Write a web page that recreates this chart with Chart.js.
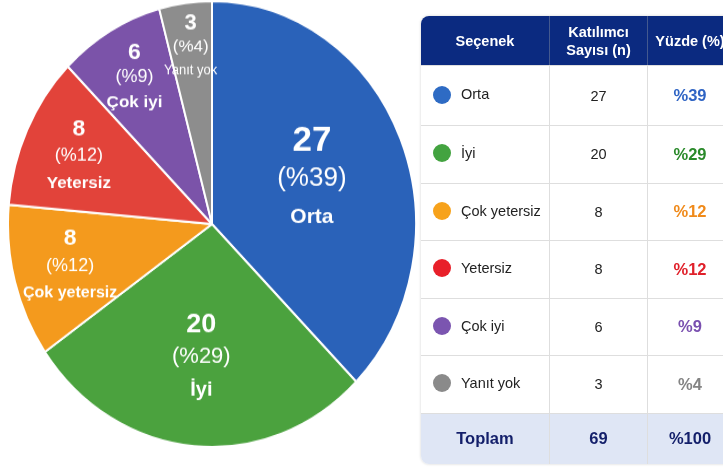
<!DOCTYPE html>
<html lang="tr">
<head>
<meta charset="utf-8">
<script src="https://cdn.jsdelivr.net/npm/chart.js@4.4.0/dist/chart.umd.min.js"></script>
<style>
    html, body { margin: 0; padding: 0; background: #fff; }
    body { width: 723px; height: 467px; position: relative; overflow: hidden; font-family: "Liberation Sans", Arial, sans-serif; }
    #pie { position: absolute; left: 7px; top: 0; transform-origin: 0 0; transform: scaleY(1.093); }
    #tbl {
        position: absolute; left: 421px; top: 16px; width: 312px;
        table-layout: fixed;
        border-collapse: separate; border-spacing: 0;
        border-radius: 8px; overflow: hidden;
        box-shadow: 0 0 3px rgba(0,0,0,0.18);
    }
    #tbl th { background: #0b2a80; color: #fff; font-weight: bold; font-size: 14.5px; height: 49px; line-height: 18px; padding: 0; border-right: 1px solid #44598f; text-align: center; }
    #tbl td { height: 56.5px; padding: 0; border-top: 1px solid #dedede; border-right: 1px solid #dedede; font-size: 14.5px; color: #222; text-align: center; }
    #tbl tbody tr:first-child td { height: 59px; }
    #tbl td.name { text-align: left; padding-left: 12px; white-space: nowrap; }
    #tbl td.pct { font-weight: bold; font-size: 16.5px; }
    .dot { display: inline-block; width: 18px; height: 18px; border-radius: 50%; vertical-align: middle; margin-right: 10px; position: relative; top: -1px; }
    #tbl tr.total td { background: #dfe6f5; height: 50px; font-weight: bold; font-size: 16.5px; color: #131f6a; }
</style>
</head>
<body>
<canvas id="pie" width="410" height="410"></canvas>
<table id="tbl">
    <colgroup><col style="width:129px"><col style="width:98px"><col style="width:85px"></colgroup>
    <thead>
        <tr><th>Seçenek</th><th>Katılımcı<br>Sayısı (n)</th><th>Yüzde (%)</th></tr>
    </thead>
    <tbody id="tbody"></tbody>
</table>
<script>
const categories = ['Orta', 'İyi', 'Çok yetersiz', 'Yetersiz', 'Çok iyi', 'Yanıt yok'];
const counts = [27, 20, 8, 8, 6, 3];
const percents = [39, 29, 12, 12, 9, 4];
const totalCount = 69;
const totalPercent = 100;

// styles
const sliceColors = ['#2a62b9', '#4ba23e', '#f49a1d', '#e2433a', '#7b53a9', '#8d8d8d'];
const dotColors = ['#2e6bc4', '#43a340', '#f7a21b', '#e8202a', '#7b55b0', '#8a8a8a'];
const pctColors = ['#2f64c4', '#2a8a2a', '#f08a1a', '#e0202a', '#7a50b0', '#848484'];
const labelRadius = [0.53, 0.6, 0.72, 0.72, 0.76, 0.8];
const labelFonts = [  // [number, percent, name, line gap]
    [35, 26, 21, 38],
    [27, 22, 20, 33],
    [23, 18, 16, 27],
    [23, 18, 17, 27],
    [23, 18, 17, 25],
    [22, 17, 13, 24]
];
const yStretch = 1.093;

// table rows
let tbody = document.getElementById('tbody');
categories.forEach(function (name, i) {
    let tr = document.createElement('tr');
    tr.innerHTML = '<td class="name"><span class="dot" style="background:' + dotColors[i] + '"></span>' + name + '</td>' +
        '<td>' + counts[i] + '</td>' +
        '<td class="pct" style="color:' + pctColors[i] + '">%' + percents[i] + '</td>';
    tbody.appendChild(tr);
});
let totalRow = document.createElement('tr');
totalRow.className = 'total';
totalRow.innerHTML = '<td>Toplam</td><td>' + totalCount + '</td><td>%' + totalPercent + '</td>';
tbody.appendChild(totalRow);

const sliceLabels = {
    id: 'sliceLabels',
    afterDatasetsDraw(chart) {
        const ctx = chart.ctx;
        const arcs = chart.getDatasetMeta(0).data;
        arcs.forEach(function (arc, i) {
            const p = arc.getProps(['x', 'y', 'startAngle', 'endAngle', 'outerRadius'], true);
            const mid = (p.startAngle + p.endAngle) / 2;
            const r = p.outerRadius * labelRadius[i];
            const px = p.x + Math.cos(mid) * r;
            const py = p.y + Math.sin(mid) * r;
            const f = labelFonts[i];
            ctx.save();
            ctx.translate(px, py);
            ctx.scale(1, 1 / yStretch);
            ctx.fillStyle = '#fff';
            ctx.textAlign = 'center';
            ctx.textBaseline = 'middle';
            ctx.font = 'bold ' + f[0] + 'px "Liberation Sans", Arial, sans-serif';
            ctx.fillText(String(counts[i]), 0, -f[3]);
            ctx.font = f[1] + 'px "Liberation Sans", Arial, sans-serif';
            ctx.fillText('(%' + percents[i] + ')', 0, 0);
            ctx.font = (i === 5 ? '' : 'bold ') + f[2] + 'px "Liberation Sans", Arial, sans-serif';
            ctx.fillText(categories[i], 0, f[3]);
            ctx.restore();
        });
    }
};

new Chart(document.getElementById('pie').getContext('2d'), {
    type: 'pie',
    data: {
        labels: categories,
        datasets: [{
            data: counts,
            backgroundColor: sliceColors,
            borderColor: '#ffffff',
            borderWidth: 2
        }]
    },
    options: {
        responsive: false,
        animation: false,
        layout: { padding: 0 },
        plugins: {
            legend: { display: false },
            tooltip: { enabled: false }
        }
    },
    plugins: [sliceLabels]
});
</script>
</body>
</html>
